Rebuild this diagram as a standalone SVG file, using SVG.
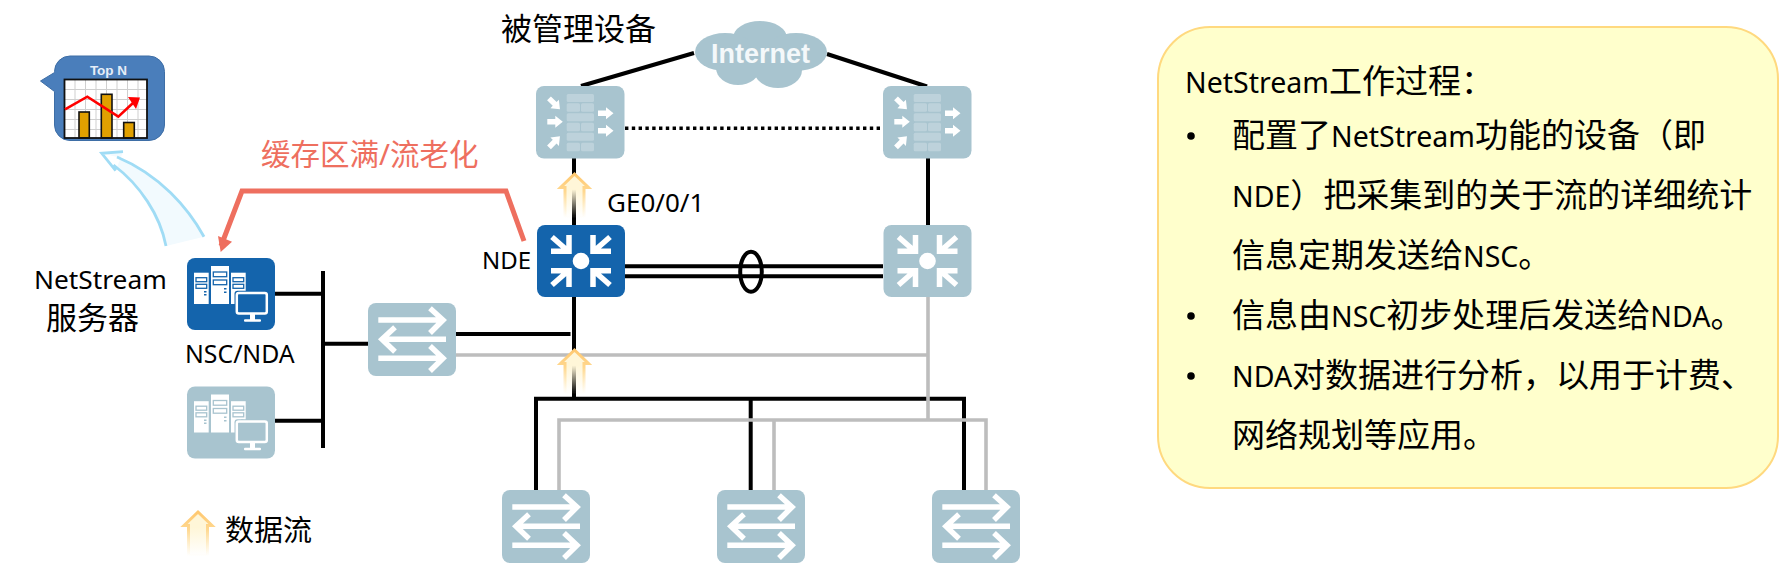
<svg xmlns="http://www.w3.org/2000/svg" xmlns:xlink="http://www.w3.org/1999/xlink" width="1780" height="565" viewBox="0 0 1780 565">
<style>
text{font-family:"Noto Sans","Noto Sans CJK SC",sans-serif;fill:#000}
.lat{font-size:26.300px}
.p{font-size:33px}
.pl{font-size:28.500px}
.blk{stroke:#000;stroke-width:4;fill:none}
.gry{stroke:#BDBDBD;stroke-width:3.6;fill:none}
.pale{color:#A8C4CF}
.blue{color:#1464AC}
.w{stroke:#fff;stroke-width:5.500;fill:none;stroke-linejoin:miter}
.tw{fill:#fff}
.br{fill:#BDD2DB}
</style>
<defs>
<linearGradient id="fs" x1="0" y1="0" x2="0" y2="1"><stop offset="0" stop-color="#FFC870"/><stop offset="0.4" stop-color="#FFD890"/><stop offset="1" stop-color="#FFE6B0" stop-opacity="0"/></linearGradient>
<linearGradient id="ff" x1="0" y1="0" x2="0" y2="1"><stop offset="0" stop-color="#FFF6D8"/><stop offset="0.35" stop-color="#FFF6D8"/><stop offset="1" stop-color="#FFF6D8" stop-opacity="0"/></linearGradient>
<g id="flow"><path d="M0 0L14 13.5H9.5V44H-9.5V13.5H-14Z" fill="url(#ff)" stroke="url(#fs)" stroke-width="3"/></g>
<path id="ba" d="M0-2.7H8V-6L15.5 0L8 6V2.7H0Z" fill="#fff"/>
<g id="switch">
<rect width="88" height="73" rx="8" fill="currentColor"/>
<path class="w" d="M10.300 17H76M62 5.300L75 17L62 30M78 36.300H14M27 24.300L14 36.300L27 48.700M10.300 55.300H76M62 43L75 55.300L62 68"/>
</g>
<g id="router">
<rect width="88" height="72" rx="8" fill="currentColor"/>
<circle cx="44" cy="36" r="8.300" fill="#fff"/>
<path class="w" d="M32 10V29M14 26.200H34.700M15 12L31 26M56 10V29M74 26.200H53.300M73 12L57 26M32 62V43M14 45.800H34.700M15 60L31 46M56 62V43M74 45.800H53.300M73 60L57 46"/>
</g>
<g id="firewall">
<rect width="88.500" height="72.500" rx="8" fill="currentColor"/>
<g class="br">
<rect x="30.700" y="8" width="27.300" height="8" rx="1.500"/><rect x="30.700" y="17.300" width="13.300" height="8.500" rx="1.500"/><rect x="45" y="17.300" width="13" height="8.500" rx="1.500"/>
<rect x="30.700" y="27.300" width="27.300" height="8" rx="1.500"/><rect x="30.700" y="36.800" width="13.300" height="8.500" rx="1.500"/><rect x="45" y="36.800" width="13" height="8.500" rx="1.500"/>
<rect x="30.700" y="46.800" width="27.300" height="8" rx="1.500"/><rect x="30.700" y="56.700" width="13.300" height="8.500" rx="1.500"/><rect x="45" y="56.700" width="13" height="8.500" rx="1.500"/>
</g>
<use xlink:href="#ba" href="#ba" transform="translate(13 12.300) rotate(45)"/>
<use xlink:href="#ba" href="#ba" transform="translate(11.300 35.700)"/>
<use xlink:href="#ba" href="#ba" transform="translate(13 61.300) rotate(-45)"/>
<use xlink:href="#ba" href="#ba" transform="translate(62 27.300)"/>
<use xlink:href="#ba" href="#ba" transform="translate(62 44.700)"/>
</g>
<g id="tower">
<rect class="tw" x="0" y="6.700" width="14.700" height="31.300"/>
<g fill="none" stroke="currentColor" stroke-width="1.300"><rect x="2" y="11.700" width="10.700" height="4"/><rect x="2" y="18.300" width="10.700" height="4"/></g>
<rect x="10" y="25" width="2.500" height="1.500" fill="currentColor"/><rect x="10" y="28" width="2.500" height="1.500" fill="currentColor"/>
</g>
<g id="server">
<rect width="88" height="72" rx="8" fill="currentColor"/>
<use xlink:href="#tower" href="#tower" x="7" y="8"/>
<rect class="tw" x="24" y="8" width="18" height="38"/>
<g fill="none" stroke="currentColor" stroke-width="1.300"><rect x="26.300" y="14" width="13.400" height="4.700"/><rect x="26.300" y="22" width="13.400" height="4.700"/></g>
<rect x="37" y="30" width="2.500" height="1.500" fill="currentColor"/><rect x="37" y="33.500" width="2.500" height="1.500" fill="currentColor"/>
<use xlink:href="#tower" href="#tower" x="44" y="8"/>
<rect x="47.500" y="32.800" width="34.300" height="24.700" rx="3" fill="currentColor"/>
<rect x="49.800" y="35" width="30" height="20.500" rx="2" fill="currentColor" stroke="#fff" stroke-width="2.500"/>
<rect class="tw" x="63" y="56" width="5" height="6"/><rect class="tw" x="57" y="61.300" width="17" height="2.500" rx="1"/>
</g>
</defs>

<g id="connectors">
<path class="blk" d="M581 86L694 53M827 54L927 86.500M574 158V225M928 158V225"/>
<path d="M625 128.300H883" fill="none" stroke="#000" stroke-width="3.400" stroke-dasharray="3.400 3.400"/>
<path class="blk" d="M625 266.300H883M625 276.300H883"/>
<ellipse cx="751" cy="271.700" rx="10.800" ry="20" fill="none" stroke="#000" stroke-width="4"/>
<path class="blk" d="M574 297V398M275 293.700H323M275 420.700H323M323 271V448M323 343.700H368M456 334H570.500"/>
<path class="blk" d="M536 490V398.700H964V490M750.700 398.700V490"/>
<path class="gry" d="M456 355H928M928 297V420M559 490V420H986V490M774 420V490"/>
<path d="M524 241L506 191H242L221 246" fill="none" stroke="#EE6F5F" stroke-width="5"/>
<path d="M218 236L232 241.700L220.700 252Z" fill="#EE6F5F"/>
</g>

<g id="top-n">
<path d="M166 246C160 215 140 185 113.500 165L115.700 170.700L123 151.700L101.700 153.300L117 157C160 175 188 208 204 236.700Z" fill="#F2FAFE" stroke="none"/>
<path d="M166 246C160 215 140 185 113.500 165M115.700 170.700L101.700 153.300L123 151.700M204 236.700C188 208 160 175 117 157" fill="none" stroke="#A0DCF5" stroke-width="2.800"/>
<path d="M70 56H149A15.500 15.500 0 0 1 164.500 71.500V125A15.500 15.500 0 0 1 149 140.500H70A15.500 15.500 0 0 1 54.500 125V91.500L40.500 81L54.500 72.500V71.500A15.500 15.500 0 0 1 70 56Z" fill="#4A7EBB" stroke="#3E6EA6"/>
<text x="108.500" y="75" text-anchor="middle" style="font-family:'Liberation Sans',sans-serif;font-weight:bold;font-size:13.500px;fill:#E6EEF8">Top N</text>
<rect x="64.500" y="79.500" width="82.500" height="58.500" fill="#fff"/>
<path d="M64.500 89.500H147M64.500 99.500H147M64.500 109.500H147M64.500 119.500H147M64.500 129.500H147M75 79.500V138M85.500 79.500V138M96 79.500V138M106.500 79.500V138M117 79.500V138M127.500 79.500V138M138 79.500V138" stroke="#CFCFCF" stroke-width="1" fill="none"/>
<g fill="#E0A000" stroke="#111" stroke-width="1.600"><rect x="79" y="112" width="10.300" height="26"/><rect x="101.300" y="94.300" width="10.700" height="43.700"/><rect x="123.700" y="122.500" width="10.600" height="15.500"/></g>
<rect x="64.500" y="79.500" width="82.500" height="58.500" fill="none" stroke="#111" stroke-width="1.800"/>
<path d="M65 109.300L87.300 96.700L118.300 116.700L133 103" fill="none" stroke="#F00" stroke-width="2.600"/>
<path d="M128 97L140 97.500L136 109Z" fill="#F00"/>
</g>

<g id="nsc-nda" class="blue"><use xlink:href="#server" href="#server" x="187" y="258"/></g>
<g id="server-2" class="pale"><use xlink:href="#server" href="#server" x="187" y="386.500"/></g>
<g id="sw-core" class="pale"><use xlink:href="#switch" href="#switch" x="368" y="303"/></g>
<g id="fw-left" class="pale"><use xlink:href="#firewall" href="#firewall" x="536" y="86"/></g>
<g id="fw-right" class="pale"><use xlink:href="#firewall" href="#firewall" x="883" y="86"/></g>
<g id="nde" class="blue"><use xlink:href="#router" href="#router" x="537" y="225"/></g>
<g id="router-right" class="pale"><use xlink:href="#router" href="#router" x="883.500" y="225"/></g>
<g id="sw-1" class="pale"><use xlink:href="#switch" href="#switch" x="502" y="490"/></g>
<g id="sw-2" class="pale"><use xlink:href="#switch" href="#switch" x="717" y="490"/></g>
<g id="sw-3" class="pale"><use xlink:href="#switch" href="#switch" x="932" y="490"/></g>
<g id="internet" fill="#A8C4CF">
<ellipse cx="760" cy="38" rx="27" ry="17"/><ellipse cx="725" cy="52" rx="30" ry="19"/><ellipse cx="796" cy="52" rx="31" ry="19"/><ellipse cx="738" cy="68" rx="22" ry="17"/><ellipse cx="778" cy="70" rx="24" ry="18"/><rect x="725" y="40" width="70" height="35"/>
<text x="760.500" y="63.300" text-anchor="middle" style="font-family:'Liberation Sans',sans-serif;font-weight:bold;font-size:27px;fill:#F4F8FA">Internet</text>
</g>
<g id="flows">
<use xlink:href="#flow" href="#flow" x="574.500" y="174"/>
<use xlink:href="#flow" href="#flow" x="574.500" y="350"/>
<use xlink:href="#flow" href="#flow" x="198" y="512"/>
</g>

<g id="labels">
<text x="501" y="40" style="font-size:31px">被管理设备</text>
<text x="261" y="165" style="font-size:29.500px;fill:#EE6F5F">缓存区满/流老化</text>
<text class="lat" x="34" y="289">NetStream</text>
<text x="46" y="328.500" style="font-size:31px">服务器</text>
<text x="185" y="362.700" style="font-size:24.800px">NSC/NDA</text>
<text x="607" y="211.700" style="font-size:26px">GE0/0/1</text>
<text x="482" y="269" style="font-size:24px">NDE</text>
<text x="225" y="541" style="font-size:29px">数据流</text>
</g>

<g id="panel">
<rect x="1158" y="27" width="620" height="461" rx="52" fill="#FFFFCC" stroke="#FFD97F" stroke-width="2"/>
<g fill="#000"><circle cx="1191" cy="136" r="3.800"/><circle cx="1191" cy="316" r="3.800"/><circle cx="1191" cy="376" r="3.800"/></g>
<text class="p" x="1185" y="92.700"><tspan class="pl">NetStream</tspan>工作过程：</text>
<text class="p" x="1232" y="146.700">配置了<tspan class="pl">NetStream</tspan>功能的设备（即</text>
<text class="p" x="1232" y="206.700"><tspan class="pl">NDE</tspan>）把采集到的关于流的详细统计</text>
<text class="p" x="1232" y="266.700">信息定期发送给<tspan class="pl">NSC</tspan>。</text>
<text class="p" x="1232" y="326.700">信息由<tspan class="pl">NSC</tspan>初步处理后发送给<tspan class="pl">NDA</tspan>。</text>
<text class="p" x="1232" y="386.700"><tspan class="pl">NDA</tspan>对数据进行分析，以用于计费、</text>
<text class="p" x="1232" y="446.700">网络规划等应用。</text>
</g>
</svg>
